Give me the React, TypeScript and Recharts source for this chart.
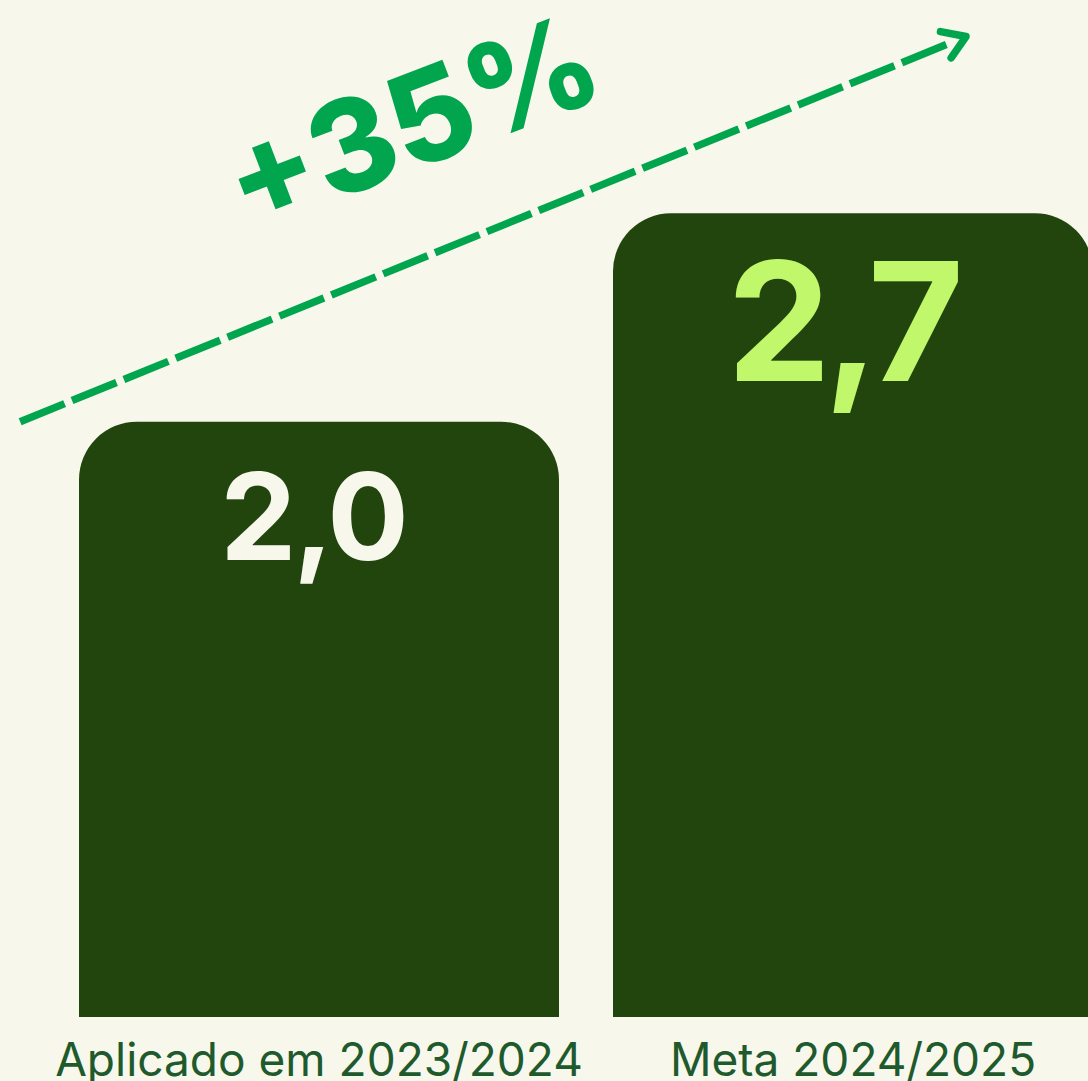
import React from 'react';
import { BarChart, Bar, XAxis, YAxis, LabelList, ReferenceLine } from 'recharts';

// categories and values
const periods = ['Aplicado em 2023/2024', 'Meta 2024/2025'];
const values = [2.0, 2.7];

// growth annotation: dashed arrow in (trend-axis 0..1, value) units
const trendX = [0.018, 0.8625];
const trendY = [2.0, 3.294];
const growthLabel = '+35%';

const data = periods.map((label, i) => ({ label, value: values[i] }));

const BG = '#f7f7ec';
const BAR = '#22450e';
const GREEN = '#00a54d';

const valueStyles = [
  { fill: '#f7f7ec', fontSize: 121, dy: 138, dx: -6, spacing: -3 },
  { fill: '#c1f76a', fontSize: 165, dy: 168, dx: -11, spacing: -7 },
];

const fmt = (v: number) => v.toFixed(1).replace('.', ',');

function ValueLabel(props: any) {
  const { x, y, width, value, index } = props;
  const s = valueStyles[index] || valueStyles[0];
  return (
    <text
      x={x + width / 2 + s.dx}
      y={y + s.dy}
      textAnchor="middle"
      fill={s.fill}
      fontSize={s.fontSize}
      fontWeight={700}
      fontFamily="Inter, 'Noto Sans', sans-serif"
      letterSpacing={s.spacing}
    >
      {fmt(value)}
    </text>
  );
}

function PeriodTick(props: any) {
  const { x, y, payload } = props;
  return (
    <text
      x={x}
      y={y + 51}
      textAnchor="middle"
      fill="#1f5a2c"
      fontSize={46}
      fontFamily="Inter, 'Noto Sans', sans-serif"
    >
      {payload.value}
    </text>
  );
}

function GrowthArrow(props: any) {
  const { x1, y1, x2, y2 } = props;
  const dx = x2 - x1;
  const dy = y2 - y1;
  const len = Math.sqrt(dx * dx + dy * dy);
  const ux = dx / len;
  const uy = dy / len;
  // normal pointing above the line
  const nx = uy;
  const ny = -ux;
  const shaftEnd = { x: x2 - ux * 20, y: y2 - uy * 20 };
  const arm = 26;
  const a = (33 * Math.PI) / 180;
  const bx = -ux;
  const by = -uy;
  const arm1 = { x: x2 + arm * (bx * Math.cos(a) - by * Math.sin(a)), y: y2 + arm * (bx * Math.sin(a) + by * Math.cos(a)) };
  const arm2 = { x: x2 + arm * (bx * Math.cos(-a) - by * Math.sin(-a)), y: y2 + arm * (bx * Math.sin(-a) + by * Math.cos(-a)) };
  const t = 0.465;
  const tx = x1 + dx * t + nx * 84;
  const ty = y1 + dy * t + ny * 84;
  return (
    <g>
      <line x1={x1} y1={y1} x2={shaftEnd.x} y2={shaftEnd.y} stroke={GREEN} strokeWidth={7.5} strokeDasharray="48 8" />
      <polyline
        points={`${arm1.x},${arm1.y} ${x2},${y2} ${arm2.x},${arm2.y}`}
        fill="none"
        stroke={GREEN}
        strokeWidth={7.5}
        strokeLinecap="round"
        strokeLinejoin="round"
      />
      <text
        x={tx}
        y={ty}
        textAnchor="middle"
        fill={GREEN}
        fontSize={128}
        fontWeight={800}
        fontFamily="Inter, 'Noto Sans', sans-serif"
        transform={`rotate(-21, ${tx}, ${ty})`}
      >
        {growthLabel}
      </text>
    </g>
  );
}

export default function App() {
  return (
    <div style={{ position: 'fixed', left: 0, top: 0, width: 1088, height: 1081, overflow: 'hidden', background: BG }}>
      <BarChart width={1120} height={1081} data={data} margin={{ top: 5, right: 0, bottom: 0, left: 0 }}>
        <XAxis
          dataKey="label"
          height={64}
          axisLine={false}
          tickLine={false}
          tick={<PeriodTick />}
          interval={0}
          padding={{ left: 52, right: 0 }}
        />
        <XAxis xAxisId="trend" type="number" domain={[0, 1]} allowDataOverflow hide />
        <YAxis hide domain={[0, 3.4]} allowDataOverflow />
        <Bar dataKey="value" fill={BAR} barSize={480} radius={[58, 58, 0, 0]} isAnimationActive={false}>
          <LabelList dataKey="value" content={<ValueLabel />} />
        </Bar>
        <ReferenceLine
          xAxisId="trend"
          ifOverflow="visible"
          segment={[
            { x: trendX[0], y: trendY[0] },
            { x: trendX[1], y: trendY[1] },
          ]}
          shape={<GrowthArrow />}
        />
      </BarChart>
    </div>
  );
}
